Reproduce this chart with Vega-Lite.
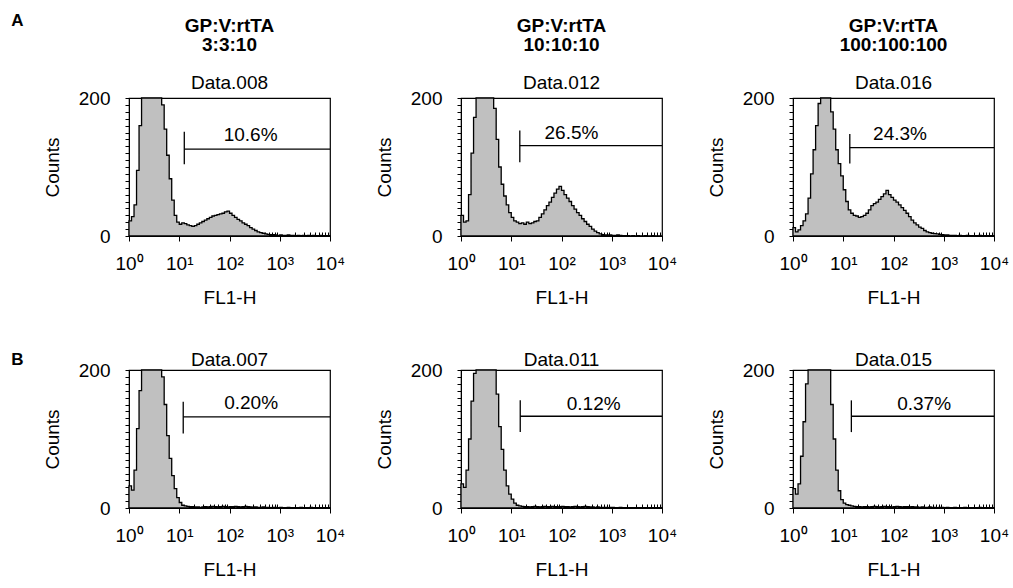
{
"$schema":"https://vega.github.io/schema/vega-lite/v6.json",
"background":"white",
"padding":{"left":11,"top":12,"right":5,"bottom":3},
"config":{
 "font":"Liberation Sans",
 "view":{"stroke":"black","strokeWidth":1.2},
 "axis":{"labelFont":"Liberation Sans","labelFontSize":19,"labelColor":"black","titleFont":"Liberation Sans","titleFontSize":19,"titleFontWeight":"normal","titleColor":"black","domainColor":"black","tickColor":"black","grid":false},
 "title":{"font":"Liberation Sans","fontSize":19,"color":"black","fontWeight":"normal","subtitleFont":"Liberation Sans","subtitleFontSize":19,"subtitleColor":"black","offset":6}
},
"datasets":{
 "hist":[
{"x":1,"d008":22,"d012":30,"d016":12,"d007":32,"d011":35,"d015":28},
{"x":1.122,"d008":28,"d012":20,"d016":6,"d007":26,"d011":30,"d015":20},
{"x":1.259,"d008":45,"d012":22,"d016":9,"d007":55,"d011":55,"d015":35},
{"x":1.413,"d008":95,"d012":60,"d016":15,"d007":115,"d011":100,"d015":75},
{"x":1.585,"d008":160,"d012":120,"d016":22,"d007":170,"d011":155,"d015":125},
{"x":1.778,"d008":230,"d012":172,"d016":32,"d007":215,"d011":195,"d015":180},
{"x":1.995,"d008":300,"d012":220,"d016":55,"d007":280,"d011":230,"d015":230},
{"x":2.239,"d008":360,"d012":280,"d016":90,"d007":340,"d011":290,"d015":290},
{"x":2.512,"d008":390,"d012":340,"d016":125,"d007":370,"d011":340,"d015":340},
{"x":2.818,"d008":370,"d012":360,"d016":160,"d007":350,"d011":360,"d015":360},
{"x":3.162,"d008":320,"d012":330,"d016":192,"d007":300,"d011":330,"d015":350},
{"x":3.548,"d008":270,"d012":280,"d016":230,"d007":260,"d011":280,"d015":310},
{"x":3.981,"d008":225,"d012":230,"d016":240,"d007":225,"d011":240,"d015":270},
{"x":4.467,"d008":190,"d012":185,"d016":220,"d007":190,"d011":205,"d015":230},
{"x":5.012,"d008":155,"d012":140,"d016":205,"d007":150,"d011":165,"d015":200},
{"x":5.623,"d008":117,"d012":100,"d016":180,"d007":105,"d011":118,"d015":150},
{"x":6.31,"d008":83,"d012":75,"d016":155,"d007":72,"d011":85,"d015":100},
{"x":7.079,"d008":52,"d012":58,"d016":125,"d007":47,"d011":55,"d015":55},
{"x":7.943,"d008":30,"d012":45,"d016":105,"d007":28,"d011":32,"d015":25},
{"x":8.913,"d008":20,"d012":34,"d016":87,"d007":15,"d011":20,"d015":12},
{"x":10,"d008":17,"d012":27,"d016":67,"d007":8,"d011":13,"d015":7},
{"x":11.22,"d008":19,"d012":22,"d016":50,"d007":4,"d011":7,"d015":5},
{"x":12.59,"d008":18,"d012":20,"d016":38,"d007":3,"d011":4,"d015":4},
{"x":14.13,"d008":16,"d012":18,"d016":33,"d007":2.5,"d011":3,"d015":3},
{"x":15.85,"d008":15,"d012":19,"d016":30,"d007":2,"d011":2.5,"d015":2.5},
{"x":17.78,"d008":14,"d012":17,"d016":29,"d007":2,"d011":2,"d015":2},
{"x":19.95,"d008":15,"d012":20,"d016":27,"d007":1.5,"d011":2,"d015":2},
{"x":22.39,"d008":17,"d012":18,"d016":28,"d007":1.5,"d011":1.5,"d015":1.5},
{"x":25.12,"d008":19,"d012":19,"d016":30,"d007":1,"d011":2,"d015":2},
{"x":28.18,"d008":21,"d012":21,"d016":33,"d007":1.5,"d011":2.5,"d015":2},
{"x":31.62,"d008":23,"d012":22,"d016":38,"d007":2,"d011":2,"d015":1.5},
{"x":35.48,"d008":25,"d012":27,"d016":44,"d007":1.5,"d011":1.5,"d015":2},
{"x":39.81,"d008":27,"d012":32,"d016":47,"d007":2,"d011":2,"d015":2.5},
{"x":44.67,"d008":29,"d012":38,"d016":49,"d007":2.5,"d011":2.5,"d015":2},
{"x":50.12,"d008":30,"d012":44,"d016":53,"d007":2,"d011":2,"d015":1.5},
{"x":56.23,"d008":31,"d012":49,"d016":57,"d007":1.5,"d011":2,"d015":2},
{"x":63.1,"d008":32,"d012":56,"d016":61,"d007":2,"d011":2.5,"d015":2.5},
{"x":70.79,"d008":33,"d012":62,"d016":66,"d007":2.5,"d011":2,"d015":2},
{"x":79.43,"d008":35,"d012":68,"d016":60,"d007":2,"d011":1.5,"d015":2},
{"x":89.13,"d008":36,"d012":72,"d016":56,"d007":1.5,"d011":2,"d015":1.5},
{"x":100,"d008":33,"d012":66,"d016":52,"d007":2,"d011":2.5,"d015":2},
{"x":112.2,"d008":30,"d012":60,"d016":49,"d007":2,"d011":2,"d015":2.5},
{"x":125.9,"d008":27,"d012":55,"d016":45,"d007":2.5,"d011":2,"d015":2},
{"x":141.3,"d008":24,"d012":50,"d016":41,"d007":2,"d011":1.5,"d015":1.5},
{"x":158.5,"d008":22,"d012":44,"d016":37,"d007":1.5,"d011":2,"d015":2},
{"x":177.8,"d008":19,"d012":39,"d016":33,"d007":2,"d011":2.5,"d015":2},
{"x":199.5,"d008":17,"d012":34,"d016":28,"d007":2.5,"d011":2,"d015":1.5},
{"x":223.9,"d008":15,"d012":30,"d016":23,"d007":2,"d011":1.5,"d015":2},
{"x":251.2,"d008":12,"d012":25,"d016":19,"d007":1.5,"d011":2,"d015":1.5},
{"x":281.8,"d008":10,"d012":21,"d016":16,"d007":1,"d011":2.5,"d015":1.5},
{"x":316.2,"d008":8,"d012":17,"d016":13,"d007":1.5,"d011":2,"d015":1},
{"x":354.8,"d008":6,"d012":14,"d016":11,"d007":1,"d011":1.5,"d015":1.5},
{"x":398.1,"d008":5,"d012":10,"d016":8,"d007":1,"d011":1.5,"d015":1},
{"x":446.7,"d008":4,"d012":7,"d016":6,"d007":1.5,"d011":1,"d015":1},
{"x":501.2,"d008":3,"d012":5,"d016":5,"d007":1,"d011":1.5,"d015":1.5},
{"x":562.3,"d008":2.5,"d012":3,"d016":4,"d007":1,"d011":1,"d015":1},
{"x":631,"d008":2,"d012":2,"d016":3.5,"d007":0.5,"d011":1,"d015":1},
{"x":707.9,"d008":2,"d012":1.5,"d016":3,"d007":1,"d011":1,"d015":0.5},
{"x":794.3,"d008":1.5,"d012":1.5,"d016":2.5,"d007":1,"d011":0.5,"d015":1},
{"x":891.3,"d008":1,"d012":1.5,"d016":2,"d007":0.5,"d011":1,"d015":1},
{"x":1000,"d008":1.5,"d012":1,"d016":1.5,"d007":1,"d011":1,"d015":0.5},
{"x":1122,"d008":1,"d012":1,"d016":1.5,"d007":0.5,"d011":0.5,"d015":1},
{"x":1259,"d008":1,"d012":1.5,"d016":1,"d007":0.5,"d011":0.5,"d015":0.5},
{"x":1413,"d008":1.5,"d012":1,"d016":1,"d007":1,"d011":1,"d015":0.5},
{"x":1585,"d008":1,"d012":0.5,"d016":1,"d007":0.5,"d011":0.5,"d015":1},
{"x":1778,"d008":1,"d012":0.5,"d016":0.5,"d007":0.5,"d011":0.5,"d015":0.5},
{"x":1995,"d008":0.5,"d012":0.5,"d016":1,"d007":0.5,"d011":0.5,"d015":0.5},
{"x":2239,"d008":1,"d012":0,"d016":0.5,"d007":0.5,"d011":0.5,"d015":0.5},
{"x":2512,"d008":0.5,"d012":0.5,"d016":0.5,"d007":1,"d011":0.5,"d015":1},
{"x":2818,"d008":1,"d012":0,"d016":1,"d007":0.5,"d011":0.5,"d015":0.5},
{"x":3162,"d008":0.5,"d012":0.5,"d016":0.5,"d007":0.5,"d011":0.5,"d015":0.5},
{"x":3548,"d008":1,"d012":0,"d016":0.5,"d007":0.5,"d011":0.5,"d015":0.5},
{"x":3981,"d008":0.5,"d012":0,"d016":0.5,"d007":1,"d011":0.5,"d015":0.5},
{"x":4467,"d008":1,"d012":0.5,"d016":0.5,"d007":0.5,"d011":0.5,"d015":0.5},
{"x":5012,"d008":0.5,"d012":0,"d016":1,"d007":0.5,"d011":0.5,"d015":1},
{"x":5623,"d008":0.5,"d012":0,"d016":0.5,"d007":0.5,"d011":0.5,"d015":0.5},
{"x":6310,"d008":1,"d012":0.5,"d016":0.5,"d007":0.5,"d011":0.5,"d015":0.5},
{"x":7079,"d008":0.5,"d012":0,"d016":0.5,"d007":0.5,"d011":0.5,"d015":0.5},
{"x":7943,"d008":0.5,"d012":0,"d016":0.5,"d007":0.5,"d011":0.5,"d015":0.5},
{"x":8913,"d008":0.5,"d012":0,"d016":0.5,"d007":0.5,"d011":0.5,"d015":0.5},
{"x":10000,"d008":0.5,"d012":0,"d016":0.5,"d007":0.5,"d011":0.5,"d015":0.5}
 ],
 "gates":[
{"panel":"008","gx":12.6,"gmax":10000,"gy":126,"t1":104,"t2":151,"label":"10.6%","lx":263,"ly":146},
{"panel":"012","gx":14.8,"gmax":10000,"gy":131,"t1":107,"t2":153,"label":"26.5%","lx":158,"ly":149},
{"panel":"016","gx":13.5,"gmax":10000,"gy":128,"t1":105,"t2":148,"label":"24.3%","lx":135,"ly":148},
{"panel":"007","gx":12.0,"gmax":10000,"gy":132,"t1":108,"t2":154,"label":"0.20%","lx":269,"ly":152},
{"panel":"011","gx":15.1,"gmax":10000,"gy":133,"t1":110,"t2":156,"label":"0.12%","lx":437,"ly":151},
{"panel":"015","gx":14.5,"gmax":10000,"gy":133,"t1":110,"t2":156,"label":"0.37%","lx":407,"ly":151}
 ]
},
"spacing":42,
"vconcat":[
{
 "title":{"text":"A","orient":"left","anchor":"end","angle":0,"baseline":"top","align":"right","fontWeight":"bold","fontSize":17,"offset":7,"dy":-3},
 "spacing":131,
 "bounds":"flush",
 "hconcat":[
  {"width":201,"height":138,
   "title":{"text":["GP:V:rtTA","3:3:10"],"fontWeight":"bold","lineHeight":19,"subtitle":"Data.008","subtitleFontWeight":"normal","subtitlePadding":19,"offset":-4},
   "resolve":{"axis":{"y":"independent","x":"independent"}},
   "layer":[
    {"data":{"name":"hist"},"mark":{"type":"area","interpolate":"step-after","fill":"#c0c0c0","stroke":"black","strokeWidth":1.3},
     "encoding":{
      "x":{"field":"x","type":"quantitative","scale":{"type":"log","domain":[1,10000]},"axis":{"title":"FL1-H","values":[1,2,3,4,5,6,7,8,9,10,20,30,40,50,60,70,80,90,100,200,300,400,500,600,700,800,900,1000,2000,3000,4000,5000,6000,7000,8000,9000,10000],"labelExpr":"indexof([1,10,100,1000,10000], datum.value) >= 0 ? '10' + ['⁰','¹','²','³','⁴'][indexof([1,10,100,1000,10000], datum.value)] : ''","labelOverlap":false,"labelFlush":false,"tickSize":{"condition":{"test":"indexof([1,10,100,1000,10000], datum.value) >= 0","value":5},"value":-4},"labelPadding":13,"titlePadding":15}},
      "y":{"field":"d008","type":"quantitative","scale":{"domain":[0,200],"clamp":true,"nice":false},"axis":{"title":"Counts","values":[0,200],"tickSize":4,"labelPadding":15,"titlePadding":16}}}},
    {"data":{"name":"gates"},"transform":[{"filter":"datum.panel == '008'"}],"mark":{"type":"rule","color":"black","strokeWidth":1.3},"encoding":{"x":{"field":"gx","type":"quantitative","axis":null},"x2":{"field":"gmax"},"y":{"field":"gy","type":"quantitative","axis":null}}},
    {"data":{"name":"gates"},"transform":[{"filter":"datum.panel == '008'"}],"mark":{"type":"rule","color":"black","strokeWidth":1.3},"encoding":{"x":{"field":"gx","type":"quantitative","axis":null},"y":{"field":"t1","type":"quantitative","axis":{"orient":"left","values":[10,20,30,40,50,60,70,80,90,100,110,120,130,140,150,160,170,180,190],"labels":false,"title":null,"domain":false,"tickSize":4}},"y2":{"field":"t2"}}},
    {"data":{"name":"gates"},"transform":[{"filter":"datum.panel == '008'"}],"mark":{"type":"text","fontSize":19,"font":"Liberation Sans","color":"black","baseline":"middle","align":"center"},"encoding":{"x":{"field":"lx","type":"quantitative","axis":{"orient":"top","labels":false,"ticks":false,"title":null,"domain":true,"domainWidth":1.2}},"y":{"field":"ly","type":"quantitative","axis":null},"text":{"field":"label"}}}
   ]},
  {"width":201,"height":138,
   "title":{"text":["GP:V:rtTA","10:10:10"],"fontWeight":"bold","lineHeight":19,"subtitle":"Data.012","subtitleFontWeight":"normal","subtitlePadding":19,"offset":-4},
   "resolve":{"axis":{"y":"independent","x":"independent"}},
   "layer":[
    {"data":{"name":"hist"},"mark":{"type":"area","interpolate":"step-after","fill":"#c0c0c0","stroke":"black","strokeWidth":1.3},
     "encoding":{
      "x":{"field":"x","type":"quantitative","scale":{"type":"log","domain":[1,10000]},"axis":{"title":"FL1-H","values":[1,2,3,4,5,6,7,8,9,10,20,30,40,50,60,70,80,90,100,200,300,400,500,600,700,800,900,1000,2000,3000,4000,5000,6000,7000,8000,9000,10000],"labelExpr":"indexof([1,10,100,1000,10000], datum.value) >= 0 ? '10' + ['⁰','¹','²','³','⁴'][indexof([1,10,100,1000,10000], datum.value)] : ''","labelOverlap":false,"labelFlush":false,"tickSize":{"condition":{"test":"indexof([1,10,100,1000,10000], datum.value) >= 0","value":5},"value":-4},"labelPadding":13,"titlePadding":15}},
      "y":{"field":"d012","type":"quantitative","scale":{"domain":[0,200],"clamp":true,"nice":false},"axis":{"title":"Counts","values":[0,200],"tickSize":4,"labelPadding":15,"titlePadding":16}}}},
    {"data":{"name":"gates"},"transform":[{"filter":"datum.panel == '012'"}],"mark":{"type":"rule","color":"black","strokeWidth":1.3},"encoding":{"x":{"field":"gx","type":"quantitative","axis":null},"x2":{"field":"gmax"},"y":{"field":"gy","type":"quantitative","axis":null}}},
    {"data":{"name":"gates"},"transform":[{"filter":"datum.panel == '012'"}],"mark":{"type":"rule","color":"black","strokeWidth":1.3},"encoding":{"x":{"field":"gx","type":"quantitative","axis":null},"y":{"field":"t1","type":"quantitative","axis":{"orient":"left","values":[10,20,30,40,50,60,70,80,90,100,110,120,130,140,150,160,170,180,190],"labels":false,"title":null,"domain":false,"tickSize":4}},"y2":{"field":"t2"}}},
    {"data":{"name":"gates"},"transform":[{"filter":"datum.panel == '012'"}],"mark":{"type":"text","fontSize":19,"font":"Liberation Sans","color":"black","baseline":"middle","align":"center"},"encoding":{"x":{"field":"lx","type":"quantitative","axis":{"orient":"top","labels":false,"ticks":false,"title":null,"domain":true,"domainWidth":1.2}},"y":{"field":"ly","type":"quantitative","axis":null},"text":{"field":"label"}}}
   ]},
  {"width":201,"height":138,
   "title":{"text":["GP:V:rtTA","100:100:100"],"fontWeight":"bold","lineHeight":19,"subtitle":"Data.016","subtitleFontWeight":"normal","subtitlePadding":19,"offset":-4},
   "resolve":{"axis":{"y":"independent","x":"independent"}},
   "layer":[
    {"data":{"name":"hist"},"mark":{"type":"area","interpolate":"step-after","fill":"#c0c0c0","stroke":"black","strokeWidth":1.3},
     "encoding":{
      "x":{"field":"x","type":"quantitative","scale":{"type":"log","domain":[1,10000]},"axis":{"title":"FL1-H","values":[1,2,3,4,5,6,7,8,9,10,20,30,40,50,60,70,80,90,100,200,300,400,500,600,700,800,900,1000,2000,3000,4000,5000,6000,7000,8000,9000,10000],"labelExpr":"indexof([1,10,100,1000,10000], datum.value) >= 0 ? '10' + ['⁰','¹','²','³','⁴'][indexof([1,10,100,1000,10000], datum.value)] : ''","labelOverlap":false,"labelFlush":false,"tickSize":{"condition":{"test":"indexof([1,10,100,1000,10000], datum.value) >= 0","value":5},"value":-4},"labelPadding":13,"titlePadding":15}},
      "y":{"field":"d016","type":"quantitative","scale":{"domain":[0,200],"clamp":true,"nice":false},"axis":{"title":"Counts","values":[0,200],"tickSize":4,"labelPadding":15,"titlePadding":16}}}},
    {"data":{"name":"gates"},"transform":[{"filter":"datum.panel == '016'"}],"mark":{"type":"rule","color":"black","strokeWidth":1.3},"encoding":{"x":{"field":"gx","type":"quantitative","axis":null},"x2":{"field":"gmax"},"y":{"field":"gy","type":"quantitative","axis":null}}},
    {"data":{"name":"gates"},"transform":[{"filter":"datum.panel == '016'"}],"mark":{"type":"rule","color":"black","strokeWidth":1.3},"encoding":{"x":{"field":"gx","type":"quantitative","axis":null},"y":{"field":"t1","type":"quantitative","axis":{"orient":"left","values":[10,20,30,40,50,60,70,80,90,100,110,120,130,140,150,160,170,180,190],"labels":false,"title":null,"domain":false,"tickSize":4}},"y2":{"field":"t2"}}},
    {"data":{"name":"gates"},"transform":[{"filter":"datum.panel == '016'"}],"mark":{"type":"text","fontSize":19,"font":"Liberation Sans","color":"black","baseline":"middle","align":"center"},"encoding":{"x":{"field":"lx","type":"quantitative","axis":{"orient":"top","labels":false,"ticks":false,"title":null,"domain":true,"domainWidth":1.2}},"y":{"field":"ly","type":"quantitative","axis":null},"text":{"field":"label"}}}
   ]}
 ]
},
{
 "title":{"text":"B","orient":"left","anchor":"end","angle":0,"baseline":"top","align":"right","fontWeight":"bold","fontSize":17,"offset":7,"dy":2},
 "spacing":131,
 "bounds":"flush",
 "hconcat":[
  {"width":201,"height":138,
   "title":{"text":"Data.007","offset":-9},
   "resolve":{"axis":{"y":"independent","x":"independent"}},
   "layer":[
    {"data":{"name":"hist"},"mark":{"type":"area","interpolate":"step-after","fill":"#c0c0c0","stroke":"black","strokeWidth":1.3},
     "encoding":{
      "x":{"field":"x","type":"quantitative","scale":{"type":"log","domain":[1,10000]},"axis":{"title":"FL1-H","values":[1,2,3,4,5,6,7,8,9,10,20,30,40,50,60,70,80,90,100,200,300,400,500,600,700,800,900,1000,2000,3000,4000,5000,6000,7000,8000,9000,10000],"labelExpr":"indexof([1,10,100,1000,10000], datum.value) >= 0 ? '10' + ['⁰','¹','²','³','⁴'][indexof([1,10,100,1000,10000], datum.value)] : ''","labelOverlap":false,"labelFlush":false,"tickSize":{"condition":{"test":"indexof([1,10,100,1000,10000], datum.value) >= 0","value":5},"value":-4},"labelPadding":13,"titlePadding":15}},
      "y":{"field":"d007","type":"quantitative","scale":{"domain":[0,200],"clamp":true,"nice":false},"axis":{"title":"Counts","values":[0,200],"tickSize":4,"labelPadding":15,"titlePadding":16}}}},
    {"data":{"name":"gates"},"transform":[{"filter":"datum.panel == '007'"}],"mark":{"type":"rule","color":"black","strokeWidth":1.3},"encoding":{"x":{"field":"gx","type":"quantitative","axis":null},"x2":{"field":"gmax"},"y":{"field":"gy","type":"quantitative","axis":null}}},
    {"data":{"name":"gates"},"transform":[{"filter":"datum.panel == '007'"}],"mark":{"type":"rule","color":"black","strokeWidth":1.3},"encoding":{"x":{"field":"gx","type":"quantitative","axis":null},"y":{"field":"t1","type":"quantitative","axis":{"orient":"left","values":[10,20,30,40,50,60,70,80,90,100,110,120,130,140,150,160,170,180,190],"labels":false,"title":null,"domain":false,"tickSize":4}},"y2":{"field":"t2"}}},
    {"data":{"name":"gates"},"transform":[{"filter":"datum.panel == '007'"}],"mark":{"type":"text","fontSize":19,"font":"Liberation Sans","color":"black","baseline":"middle","align":"center"},"encoding":{"x":{"field":"lx","type":"quantitative","axis":{"orient":"top","labels":false,"ticks":false,"title":null,"domain":true,"domainWidth":1.2}},"y":{"field":"ly","type":"quantitative","axis":null},"text":{"field":"label"}}}
   ]},
  {"width":201,"height":138,
   "title":{"text":"Data.011","offset":-9},
   "resolve":{"axis":{"y":"independent","x":"independent"}},
   "layer":[
    {"data":{"name":"hist"},"mark":{"type":"area","interpolate":"step-after","fill":"#c0c0c0","stroke":"black","strokeWidth":1.3},
     "encoding":{
      "x":{"field":"x","type":"quantitative","scale":{"type":"log","domain":[1,10000]},"axis":{"title":"FL1-H","values":[1,2,3,4,5,6,7,8,9,10,20,30,40,50,60,70,80,90,100,200,300,400,500,600,700,800,900,1000,2000,3000,4000,5000,6000,7000,8000,9000,10000],"labelExpr":"indexof([1,10,100,1000,10000], datum.value) >= 0 ? '10' + ['⁰','¹','²','³','⁴'][indexof([1,10,100,1000,10000], datum.value)] : ''","labelOverlap":false,"labelFlush":false,"tickSize":{"condition":{"test":"indexof([1,10,100,1000,10000], datum.value) >= 0","value":5},"value":-4},"labelPadding":13,"titlePadding":15}},
      "y":{"field":"d011","type":"quantitative","scale":{"domain":[0,200],"clamp":true,"nice":false},"axis":{"title":"Counts","values":[0,200],"tickSize":4,"labelPadding":15,"titlePadding":16}}}},
    {"data":{"name":"gates"},"transform":[{"filter":"datum.panel == '011'"}],"mark":{"type":"rule","color":"black","strokeWidth":1.3},"encoding":{"x":{"field":"gx","type":"quantitative","axis":null},"x2":{"field":"gmax"},"y":{"field":"gy","type":"quantitative","axis":null}}},
    {"data":{"name":"gates"},"transform":[{"filter":"datum.panel == '011'"}],"mark":{"type":"rule","color":"black","strokeWidth":1.3},"encoding":{"x":{"field":"gx","type":"quantitative","axis":null},"y":{"field":"t1","type":"quantitative","axis":{"orient":"left","values":[10,20,30,40,50,60,70,80,90,100,110,120,130,140,150,160,170,180,190],"labels":false,"title":null,"domain":false,"tickSize":4}},"y2":{"field":"t2"}}},
    {"data":{"name":"gates"},"transform":[{"filter":"datum.panel == '011'"}],"mark":{"type":"text","fontSize":19,"font":"Liberation Sans","color":"black","baseline":"middle","align":"center"},"encoding":{"x":{"field":"lx","type":"quantitative","axis":{"orient":"top","labels":false,"ticks":false,"title":null,"domain":true,"domainWidth":1.2}},"y":{"field":"ly","type":"quantitative","axis":null},"text":{"field":"label"}}}
   ]},
  {"width":201,"height":138,
   "title":{"text":"Data.015","offset":-9},
   "resolve":{"axis":{"y":"independent","x":"independent"}},
   "layer":[
    {"data":{"name":"hist"},"mark":{"type":"area","interpolate":"step-after","fill":"#c0c0c0","stroke":"black","strokeWidth":1.3},
     "encoding":{
      "x":{"field":"x","type":"quantitative","scale":{"type":"log","domain":[1,10000]},"axis":{"title":"FL1-H","values":[1,2,3,4,5,6,7,8,9,10,20,30,40,50,60,70,80,90,100,200,300,400,500,600,700,800,900,1000,2000,3000,4000,5000,6000,7000,8000,9000,10000],"labelExpr":"indexof([1,10,100,1000,10000], datum.value) >= 0 ? '10' + ['⁰','¹','²','³','⁴'][indexof([1,10,100,1000,10000], datum.value)] : ''","labelOverlap":false,"labelFlush":false,"tickSize":{"condition":{"test":"indexof([1,10,100,1000,10000], datum.value) >= 0","value":5},"value":-4},"labelPadding":13,"titlePadding":15}},
      "y":{"field":"d015","type":"quantitative","scale":{"domain":[0,200],"clamp":true,"nice":false},"axis":{"title":"Counts","values":[0,200],"tickSize":4,"labelPadding":15,"titlePadding":16}}}},
    {"data":{"name":"gates"},"transform":[{"filter":"datum.panel == '015'"}],"mark":{"type":"rule","color":"black","strokeWidth":1.3},"encoding":{"x":{"field":"gx","type":"quantitative","axis":null},"x2":{"field":"gmax"},"y":{"field":"gy","type":"quantitative","axis":null}}},
    {"data":{"name":"gates"},"transform":[{"filter":"datum.panel == '015'"}],"mark":{"type":"rule","color":"black","strokeWidth":1.3},"encoding":{"x":{"field":"gx","type":"quantitative","axis":null},"y":{"field":"t1","type":"quantitative","axis":{"orient":"left","values":[10,20,30,40,50,60,70,80,90,100,110,120,130,140,150,160,170,180,190],"labels":false,"title":null,"domain":false,"tickSize":4}},"y2":{"field":"t2"}}},
    {"data":{"name":"gates"},"transform":[{"filter":"datum.panel == '015'"}],"mark":{"type":"text","fontSize":19,"font":"Liberation Sans","color":"black","baseline":"middle","align":"center"},"encoding":{"x":{"field":"lx","type":"quantitative","axis":{"orient":"top","labels":false,"ticks":false,"title":null,"domain":true,"domainWidth":1.2}},"y":{"field":"ly","type":"quantitative","axis":null},"text":{"field":"label"}}}
   ]}
 ]
}
]
}
